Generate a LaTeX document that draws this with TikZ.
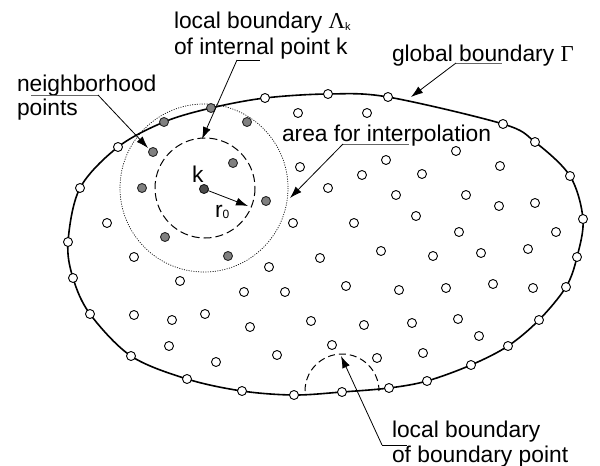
\documentclass[tikz,border=0pt]{standalone}
\usepackage{fontspec}
\setmainfont{Liberation Sans}
\newfontfamily\grk{Liberation Serif}
\usetikzlibrary{arrows.meta}
\begin{document}
\begin{tikzpicture}[x=1pt,y=-1pt,
  every node/.style={inner sep=0pt, outer sep=0pt},
  lbl/.style={anchor=base west, font=\fontsize{22.8}{25}\selectfont},
  wpt/.style={circle, draw=black, fill=white, line width=0.9pt, minimum size=9pt},
  gpt/.style={circle, draw=black!85, fill=black!50, line width=0.9pt, minimum size=9pt},
  kpt/.style={circle, draw=black!90, fill=black!70, line width=0.9pt, minimum size=9pt},
  bnd/.style={line width=1.6pt},
  lead/.style={line width=0.8pt, -{Latex[length=12pt,width=8pt]}},
  uline/.style={line width=0.8pt, draw=black!60},
  dotc/.style={line width=0.7pt, dash pattern=on 1pt off 1.4pt},
  dashc/.style={line width=1pt, dash pattern=on 8pt off 4pt},
]
\useasboundingbox (0,0) rectangle (600,466);
\fill[white] (0,0) rectangle (600,466);

% global boundary
\draw[bnd] plot[smooth cycle, tension=0.55] coordinates {
 (68,242) (80,188) (118,147) (164,122) (211,108) (265,98) (328,94) (388,97)
 (503,124) (535,142) (570,176) (583,219) (577,257) (566,287) (539,320)
 (508,346) (471,365) (427,381) (389,388) (342,392) (294,395) (242,391)
 (187,379) (131,356) (90,314) (73,278)};

% area for interpolation and local boundary
\draw[dotc] (204,188) circle[radius=84];
\draw[dashc] (205,188) circle[radius=50];
\draw[line width=1pt, dash pattern=on 7pt off 4pt] (305,391) arc[start angle=180, end angle=360, radius=37];

% boundary points
\foreach \p [count=\i] in {(68,242),(80,188),(118,147),(265,98),(328,94),(388,97),
 (503,124),(535,142),(570,176),(583,219),(577,257),(566,287),(539,320),
 (508,346),(471,365),(427,381),(389,388),(342,392),(294,395),(242,391),
 (187,379),(131,356),(90,314),(73,278)}
  \node[wpt] (b\i) at \p {};
\node[gpt] (bg1) at (164,122) {};
\node[gpt] (bg2) at (211,108) {};

% internal points
\foreach \p [count=\i] in {(298,113),(367,113),(300,167),(386,160),(362,175),
 (328,188),(396,195),(293,223),(354,223),(422,174),(456,151),(500,166),
 (466,195),(499,206),(535,203),(416,216),(459,232),(556,232),(107,223),
 (320,258),(381,251),(433,256),(481,253),(528,249),(346,286),(399,290),
 (446,288),(493,284),(533,288),(311,321),(364,325),(412,323),(458,319),
 (479,336),(332,345),(377,358),(423,353),(269,267),(244,292),(285,292),
 (250,327),(277,355),(134,257),(180,281),(134,315),(172,320),(205,314),
 (169,346),(216,362)}
  \node[wpt] (p\i) at \p {};

% neighborhood points
\foreach \p [count=\i] in {(247,122),(153,152),(233,163),(142,188),(266,201),(165,237),(228,256)}
  \node[gpt] (n\i) at \p {};
\node[kpt] (k) at (204,189) {};

% labels
\node[lbl] (tlam1) at (174,28) {local boundary {\grk Λ}\raisebox{-2pt}{\fontsize{11}{11}\selectfont k}};
\node[lbl] (tlam2) at (174,54) {of internal point k};
\node[lbl] (tglob) at (392,61) {global boundary {\grk Γ}};
\node[lbl] (tnb1) at (17,91) {neighborhood};
\node[lbl] (tnb2) at (17,115) {points};
\node[lbl] (tarea) at (282,141) {area for interpolation};
\node[lbl] (tbp1) at (392,437) {local boundary};
\node[lbl] (tbp2) at (392,462) {of boundary point};
\node[lbl] (tk) at (192,182) {k};
\node[lbl] (tr) at (215,217) {r\raisebox{-1pt}{\fontsize{12}{12}\selectfont 0}};

% leaders
\coordinate (lamA) at (237,60); \coordinate (lamB) at (260,60); \coordinate (lamT) at (202,139);
\draw[uline,draw=black] (lamA) -- (lamB);
\draw[lead] (lamA) -- (lamT);

\coordinate (glA) at (456,63); \coordinate (glB) at (502,63); \coordinate (glT) at (411,97);
\draw[uline] (glA) -- (glB);
\draw[lead] (glA) -- (glT);

\coordinate (nbA) at (31,95); \coordinate (nbB) at (98,95); \coordinate (nbT) at (148,148);
\draw[uline] (nbA) -- (nbB);
\draw[lead] (nbB) -- (nbT);

\coordinate (arA) at (343,144); \coordinate (arB) at (409,144); \coordinate (arT) at (290,198);
\draw[uline] (arA) -- (arB);
\draw[lead] (arA) -- (arT);

\coordinate (bpA) at (382,445); \coordinate (bpB) at (407,445); \coordinate (bpT) at (341,356);
\draw[uline,draw=black] (bpA) -- (bpB);
\draw[lead] (bpA) -- (bpT);

\coordinate (rT) at (248,206);
\draw[lead] (k) -- (rT);
\end{tikzpicture}
\end{document}
